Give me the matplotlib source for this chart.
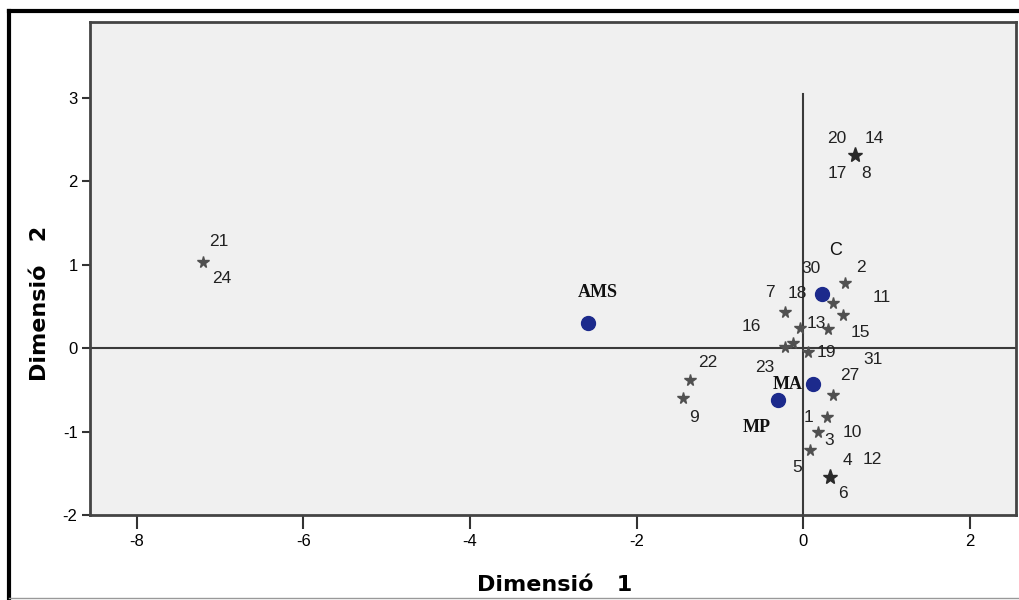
import matplotlib
matplotlib.use('Agg')
import matplotlib.pyplot as plt
from matplotlib.lines import Line2D

plt.rcParams['axes.unicode_minus'] = False

# Punts de casos (estrelles) - coordenades a les dimensions 1 i 2
case_x = [0.62, -7.21, 0.50, 0.35, 0.47, -0.22, -0.04, 0.29, -0.22, -0.13,
          0.05, -1.36, -1.45, 0.35, 0.28, 0.17, 0.08, 0.32]
case_y = [2.31, 1.03, 0.78, 0.54, 0.40, 0.43, 0.24, 0.23, 0.01, 0.06,
          -0.05, -0.38, -0.60, -0.56, -0.83, -1.01, -1.22, -1.55]
# etiquetes de cada punt (diversos casos poden coincidir)
case_labels = [['20', '14', '17', '8'], ['21', '24'], ['2', '30'], ['18'], ['11'],
               ['7'], ['16'], ['13', '15'], ['23'], [], ['19'], ['22'], ['9'],
               ['27', '31'], ['1', '10'], ['3'], ['5'], ['4', '12', '6']]

# Categories (punts blaus)
cat_names = ['AMS', 'C', 'MA', 'MP']
cat_x = [-2.58, 0.22, 0.11, -0.31]
cat_y = [0.30, 0.65, -0.43, -0.62]

# desplaçaments de les etiquetes, en píxels
case_offsets = [[(-18, 17), (19, 17), (-18, -18), (11, -18)], [(16, 21), (19, -16)],
                [(16, 16), (-34, 15)], [(-35, 10)], [(39, 17)], [(-15, 20)], [(-49, 2)],
                [(-11, 5), (33, -4)], [(-20, -20)], [], [(19, 0)], [(18, 17)], [(11, -19)],
                [(17, 19), (40, 35)], [(-18, 0), (26, -15)], [(12, -8)], [(-13, -18)],
                [(17, 17), (42, 18), (13, -16)]]
cat_offsets = [(9, 31), (14, 43), (-25, 0), (-21, -28)]

fig = plt.figure(figsize=(10.19, 6), dpi=100)
ax = fig.add_axes([90 / 1019, 85 / 600, 926 / 1019, 493 / 600])
ax.set_facecolor('#f0f0f0')

# línies de referència
ax.axhline(0, color='#3a3a3a', lw=1.5, zorder=1)
ax.plot([0, 0], [-2, 3.05], color='#3a3a3a', lw=1.5, zorder=1)

for i in range(len(case_x)):
    n = len(case_labels[i])
    ax.plot(case_x[i], case_y[i], marker='*', ls='none',
            color='#2a2a2a' if n >= 3 else '#505050',
            markersize=11 if n >= 3 else 8.5, zorder=3)
    for lab, off in zip(case_labels[i], case_offsets[i]):
        ax.annotate(lab, (case_x[i], case_y[i]), xytext=off, textcoords='offset pixels',
                    ha='center', va='center', fontsize=12.5, family='Liberation Sans',
                    color='#222222', zorder=4)

ax.plot(cat_x, cat_y, 'o', ls='none', color='#1c2a8c', markersize=10, zorder=5)
for name, cx, cy, off in zip(cat_names, cat_x, cat_y, cat_offsets):
    if name == 'C':
        kw = dict(family='Liberation Sans', fontsize=13)
    else:
        kw = dict(family='Liberation Serif', fontsize=13, fontweight='bold')
    ax.annotate(name, (cx, cy), xytext=off, textcoords='offset pixels',
                ha='center', va='center', color='#111111', zorder=6, **kw)

ax.set_xlim(-8.56, 2.55)
ax.set_ylim(-2, 3.91)
ax.set_xticks([-8, -6, -4, -2, 0, 2])
ax.set_yticks([-2, -1, 0, 1, 2, 3])
ax.tick_params(axis='x', length=10, width=1.5, color='#333333', labelsize=12, pad=4)
ax.tick_params(axis='y', length=6, width=1.5, color='#333333', labelsize=12, pad=3)
for lab in ax.get_xticklabels() + ax.get_yticklabels():
    lab.set_family('Liberation Sans')
for s in ax.spines.values():
    s.set_color('#444444')
    s.set_linewidth(2)

ax.set_xlabel('Dimensió   1', fontsize=16, fontweight='bold', family='DejaVu Sans')
ax.set_ylabel('Dimensió   2', fontsize=16, fontweight='bold', family='DejaVu Sans')
ax.xaxis.set_label_coords(0.502, -0.142)
ax.xaxis.label.set(va='center', ha='center')
ax.yaxis.set_label_coords(-0.054, 0.43)
ax.yaxis.label.set(va='center', ha='center')

# marc exterior
fig.add_artist(Line2D([9 / 1019, 1], [1 - 11 / 600, 1 - 11 / 600], transform=fig.transFigure, color='black', lw=3))
fig.add_artist(Line2D([9 / 1019, 9 / 1019], [2 / 600, 1 - 11 / 600], transform=fig.transFigure, color='black', lw=3))
fig.add_artist(Line2D([9 / 1019, 1], [2 / 600, 2 / 600], transform=fig.transFigure, color='#999999', lw=1))

plt.savefig('out.png', dpi=100)
